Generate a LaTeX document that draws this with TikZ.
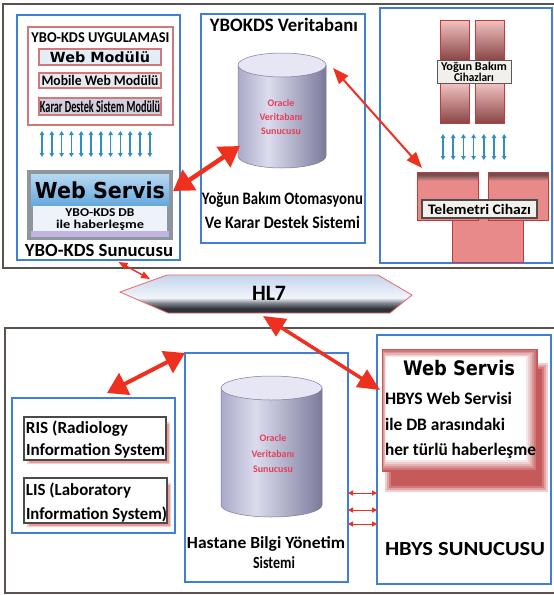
\documentclass[tikz,border=0pt]{standalone}
\usepackage{fontspec}
\setmainfont{Carlito}
\newfontfamily\vfont{DejaVu Sans}
\usepackage{graphicx}
\usetikzlibrary{arrows.meta,calc}
% set a text to a given width, keeping its height
\newcommand\fw[2]{\resizebox{#1pt}{\height}{#2}}
\newcommand\fs[1]{\fontsize{#1}{#1}\selectfont}

\definecolor{framec}{HTML}{5B524E}
\definecolor{boxblue}{HTML}{3F7FD9}
\definecolor{pinkline}{HTML}{D27878}
\definecolor{arrred}{HTML}{F0301E}
\definecolor{tealc}{HTML}{2F8FC0}
\definecolor{cylA}{HTML}{A9A9C9}
\definecolor{cylB}{HTML}{DCDCEE}
\definecolor{cylC}{HTML}{8A8AA9}
\definecolor{cylE}{HTML}{7A7A96}
\definecolor{cyltop}{HTML}{E6E6F5}
\definecolor{oracle}{HTML}{E5405A}
\definecolor{hlA}{HTML}{C4D5EC}
\definecolor{hlB}{HTML}{F1F5FA}
\definecolor{hlC}{HTML}{2F3339}
\definecolor{hlD}{HTML}{7D838C}
\definecolor{hlline}{HTML}{E86A6A}
\definecolor{tpink}{HTML}{E98A8A}
\definecolor{tdark}{HTML}{6E5050}
\definecolor{telline}{HTML}{C23A3A}
\definecolor{barlight}{HTML}{F2C2C2}
\definecolor{bardark}{HTML}{8A4646}
\definecolor{hbred}{HTML}{C65A5A}
\definecolor{labelbg}{HTML}{F3EFEB}
\definecolor{wmfill}{HTML}{E2EDF8}
\definecolor{mwmfill}{HTML}{E8E8EF}
\definecolor{kdsfill}{HTML}{D4CEDF}
\definecolor{wsbevel}{HTML}{8D969E}
\definecolor{wsA}{HTML}{B6D9F2}
\definecolor{wsB}{HTML}{5FA4DB}
\definecolor{wslight}{HTML}{EEF3F9}
\definecolor{wsband}{HTML}{C2B4E0}
\definecolor{risline}{HTML}{4A4A4A}
\definecolor{risshadow}{HTML}{E05858}

\pgfdeclarehorizontalshading{cylsh}{100bp}{color(0bp)=(cylA); color(25bp)=(cylA); color(42bp)=(cylB); color(70bp)=(cylC); color(75bp)=(cylE); color(100bp)=(cylE)}
\pgfdeclareverticalshading{hlsh}{100bp}{color(0bp)=(hlC); color(25bp)=(hlC); color(31bp)=(hlC); color(38bp)=(hlD); color(45bp)=(hlB); color(75bp)=(hlA); color(100bp)=(hlA)}
\pgfdeclareverticalshading{telsh}{100bp}{color(0bp)=(tpink); color(25bp)=(tpink); color(66bp)=(tpink); color(72bp)=(tdark); color(100bp)=(tdark)}

% database cylinder: centre x, x radius, top y, bottom y, y radius
\newcommand\dbcyl[5]{%
  \shade[shading=cylsh] (#1-#2,#3) -- (#1-#2,#4) arc[start angle=180,end angle=0,x radius=#2,y radius=#5] -- (#1+#2,#3) -- cycle;
  \draw[cylE, line width=0.5pt] (#1-#2,#3) -- (#1-#2,#4) arc[start angle=180,end angle=0,x radius=#2,y radius=#5] -- (#1+#2,#3);
  \filldraw[fill=cyltop, draw=cylE, line width=0.5pt] (#1,#3) ellipse[x radius=#2, y radius=#5];
}

\begin{document}
\begin{tikzpicture}[x=1pt,y=-1pt,
  every node/.style={inner sep=0pt, outer sep=0pt},
  frame/.style={draw=framec, line width=2.4pt},
  bluebox/.style={draw=boxblue, line width=1.4pt},
  modbox/.style={draw=pinkline, line width=1.3pt},
  bigred/.style={draw=arrred, line width=4.5pt, {Triangle[length=20pt,width=24pt]}-{Triangle[length=20pt,width=24pt]}},
  midred/.style={draw=arrred, line width=2pt, {Triangle[length=16pt,width=12pt]}-{Triangle[length=16pt,width=12pt]}},
  thinred/.style={draw=arrred, line width=1.4pt, {Triangle[length=9pt,width=7pt]}-{Triangle[length=9pt,width=7pt]}},
  tinyred/.style={draw=arrred, line width=1pt, {Triangle[length=5pt,width=5pt]}-{Triangle[length=5pt,width=5pt]}},
  tealarr/.style={draw=tealc, line width=1.6pt, {Triangle[length=4pt,width=4.5pt]}-{Triangle[length=4pt,width=4.5pt]}},
  telblk/.style={shade, shading=telsh, draw=telline, line width=1pt, anchor=north west},
  lbl/.style={font=\bfseries\fs{#1}},
]
\useasboundingbox (0,0) rectangle (554,595);
\fill[white] (0,0) rectangle (554,595);

% ---------- upper system ----------
\node[frame, anchor=north west, minimum width=554pt, minimum height=264pt] (topfr) at (3,4) {};
\node[bluebox, anchor=north west, minimum width=163pt, minimum height=245pt] (srv) at (17,15) {};
\node[bluebox, anchor=north west, minimum width=164pt, minimum height=229pt] (dbbox) at (201,14) {};
\node[bluebox, anchor=north west, minimum width=172pt, minimum height=255pt] (devbox) at (380,8) {};

% application modules
\node[modbox, fill=white, anchor=north west, minimum width=145pt, minimum height=98pt] (app) at (28,27) {};
\node[lbl=15] (apptitle) at (100.5,37.5) {\fw{138}{YBO-KDS UYGULAMASI}};
\node[modbox, fill=wmfill, minimum width=122pt, minimum height=16pt, font=\vfont\bfseries\fs{14}] (wm) at (100,57) {\fw{100}{Web Modülü}};
\node[modbox, fill=mwmfill, minimum width=122pt, minimum height=15pt, lbl=14.5] (mwm) at (100,80.5) {\fw{117}{Mobile Web Modülü}};
\node[modbox, fill=kdsfill, minimum width=122pt, minimum height=17pt, lbl=17] (kds) at (100,106.5) {\fw{120}{Karar Destek Sistem Modülü}};

\foreach \i in {0,...,11} \draw[tealarr] (42+\i*9.8,131) -- (42+\i*9.8,157);

% web service of the YBO-KDS server
\node[anchor=north west, minimum width=146pt, minimum height=70pt, fill=wsbevel] (ws) at (27,170) {};
\shade[top color=wsA, bottom color=wsB] (31,174) rectangle (169,208);
\fill[wslight] (33,206) rectangle (167,231);
\fill[wsband] (31,231) rectangle (169,237);
\node[font=\vfont\bfseries\fs{22}, anchor=base] (wstitle) at (100,198) {\fw{130}{Web Servis}};
\node[lbl=12, anchor=base] (wsl1) at (100,216) {\fw{69}{YBO-KDS DB}};
\node[lbl=12, anchor=base] (wsl2) at (100,228) {\fw{88}{ile haberleşme}};
\node[lbl=18.5, anchor=base] (srvtitle) at (99,256.5) {\fw{148}{YBO-KDS Sunucusu}};

% YBOKDS database
\node[lbl=19, anchor=base] (dbtitle) at (284,31.5) {\fw{148}{YBOKDS Veritabanı}};
\dbcyl{282}{44}{65}{156}{12}
\node[minimum width=88pt, minimum height=115pt] (db1) at (282,110.5) {};
\node[text=oracle, font=\bfseries\fontsize{10}{14}\selectfont, align=center] (db1txt) at (281,117) {Oracle\\Veritabanı\\Sunucusu};
\node[lbl=17.5, anchor=base] (db1l1) at (282.5,204) {\fw{161}{Yoğun Bakım Otomasyonu}};
\node[lbl=17.5, anchor=base] (db1l2) at (282.5,228.3) {\fw{155}{Ve Karar Destek Sistemi}};

% intensive care devices
\foreach \bx in {440,475} {
  \shade[top color=barlight, bottom color=bardark] (\bx,20) rectangle (\bx+29,60);
  \shade[top color=barlight, bottom color=bardark] (\bx,83) rectangle (\bx+29,123);
  \draw[telline, line width=0.9pt] (\bx,20) rectangle (\bx+29,123);
}
\node[fill=labelbg, draw=gray!70!black, line width=1pt, minimum width=74pt, minimum height=23pt,
      font=\bfseries\fontsize{12}{11}\selectfont, align=center] (ybc) at (474,71.5)
      {\fw{66}{Yoğun Bakım}\\\fw{40}{Cihazları}};
\foreach \i in {0,...,6} \draw[tealarr] (443+\i*10.2,134) -- (443+\i*10.2,160);

% telemetry device
\node[telblk, minimum width=71pt, minimum height=62pt] (tl3) at (452,200) {};
\node[telblk, minimum width=61pt, minimum height=48pt] (tl1) at (417,172) {};
\node[telblk, minimum width=60pt, minimum height=48pt] (tl2) at (488,172) {};
\node[fill=labelbg, draw=gray!60!black, line width=1.2pt, minimum width=115pt, minimum height=18pt, lbl=14.5] (tel) at (479.5,209) {\fw{103}{Telemetri Cihazı}};

% ---------- HL7 ----------
\shade[shading=hlsh] (120,292) -- (167,275) -- (378,275) -- (412,295) -- (390,313) -- (168,313) -- cycle;
\draw[hlline, line width=0.8pt] (120,292) -- (167,275) -- (378,275) -- (412,295) -- (390,313) -- (168,313) -- cycle;
\node[minimum width=286pt, minimum height=38pt] (hl7) at (269,294) {};
\node[lbl=22, anchor=base] (hl7txt) at (269,300) {\fw{34}{HL7}};

% ---------- lower system ----------
\node[frame, anchor=north west, minimum width=552pt, minimum height=265pt] (botfr) at (5,328) {};
\node[bluebox, anchor=north west, minimum width=163pt, minimum height=135pt] (lbox) at (12,398) {};
\node[bluebox, anchor=north west, minimum width=163pt, minimum height=229pt] (hbs) at (185,353) {};
\node[bluebox, anchor=north west, minimum width=174pt, minimum height=249pt] (hbys) at (377,335) {};

% RIS / LIS
\foreach \o/\c in {0/30,1.5/60,3/90} {
  \fill[risshadow!\c!white] (27+\o,422+\o) rectangle (170-\o,464-\o);
  \fill[risshadow!\c!white] (27+\o,483+\o) rectangle (171-\o,527-\o);
}
\node[draw=risline, line width=1.3pt, fill=white, anchor=north west, minimum width=142pt, minimum height=43pt] (ris) at (24,417) {};
\node[draw=risline, line width=1.3pt, fill=white, anchor=north west, minimum width=143pt, minimum height=45pt] (lis) at (24,478) {};
\node[lbl=17, anchor=base west] (risl1) at (26,433) {\fw{102}{RIS (Radiology}};
\node[lbl=17, anchor=base west] (risl2) at (26,455) {\fw{139}{Information System}};
\node[lbl=17, anchor=base west] (lisl1) at (26,495) {\fw{105}{LIS (Laboratory}};
\node[lbl=17, anchor=base west] (lisl2) at (26,519) {\fw{141}{Information System)}};

% hospital database
\dbcyl{271.5}{50.5}{388}{505}{12}
\node[minimum width=101pt, minimum height=141pt] (db2) at (271.5,446.5) {};
\node[text=oracle, font=\bfseries\fontsize{10}{15.5}\selectfont, align=center] (db2txt) at (273,454) {Oracle\\Veritabanı\\Sunucusu};
\node[lbl=17, anchor=base] (hbsl1) at (266,548.3) {\fw{158}{Hastane Bilgi Yönetim}};
\node[lbl=17, anchor=base] (hbsl2) at (274,568.3) {\fw{42}{Sistemi}};

% HBYS web service
\foreach \o/\c in {0/30,2/55,4/80,6/100} \fill[hbred!\c!white] (385+\o,363+\o) rectangle (548-\o,492-\o);
\node[anchor=north west, minimum width=156pt, minimum height=123pt, fill=hbred] (hws) at (382,349) {};
\foreach \i/\c in {2/82,4/64,6/46,8/30,10/15,12/0} \fill[hbred!\c!white] (382+\i/3,349+\i*0.7) rectangle (538-\i,472-\i);
\node[font=\vfont\bfseries\fs{20}, anchor=base] (hwstitle) at (459,375) {\fw{112}{Web Servis}};
\node[lbl=17.5, anchor=base west] (hwsl1) at (385,404) {\fw{127}{HBYS Web Servisi}};
\node[lbl=17.5, anchor=base west] (hwsl2) at (385,430) {\fw{120}{ile DB arasındaki}};
\node[lbl=17.5, anchor=base west] (hwsl3) at (385,455) {\fw{151}{her türlü haberleşme}};
\node[lbl=20, anchor=base] (hbystitle) at (465,555) {\fw{160}{HBYS SUNUCUSU}};

% ---------- connections ----------
\draw[bigred] ($(ws.north east)+(0,21)$) -- ($(db1.south west)+(2,-22)$);
\draw[midred] ($(db1.north east)+(7,15)$) -- ($(tl1.north west)+(5,-4)$);
\draw[thinred] ($(srv.south)+(20,2)$) -- ($(hl7.north west)+(24,4)$);
\draw[bigred, line width=3.5pt, {Triangle[length=22pt,width=20pt]}-{Triangle[length=22pt,width=20pt]}] ($(hl7.south)+(-6,3)$) -- ($(hws.north west)+(-2,41)$);
\draw[bigred, line width=4pt] ($(lbox.north)+(13.5,-5)$) -- (hbs.north west);
\foreach \yy [count=\k] in {493,510,524} {
  \coordinate (lv\k) at (0,\yy);
  \draw[tinyred] (hbs.east |- lv\k) -- (hbys.west |- lv\k);
}
\end{tikzpicture}
\end{document}
